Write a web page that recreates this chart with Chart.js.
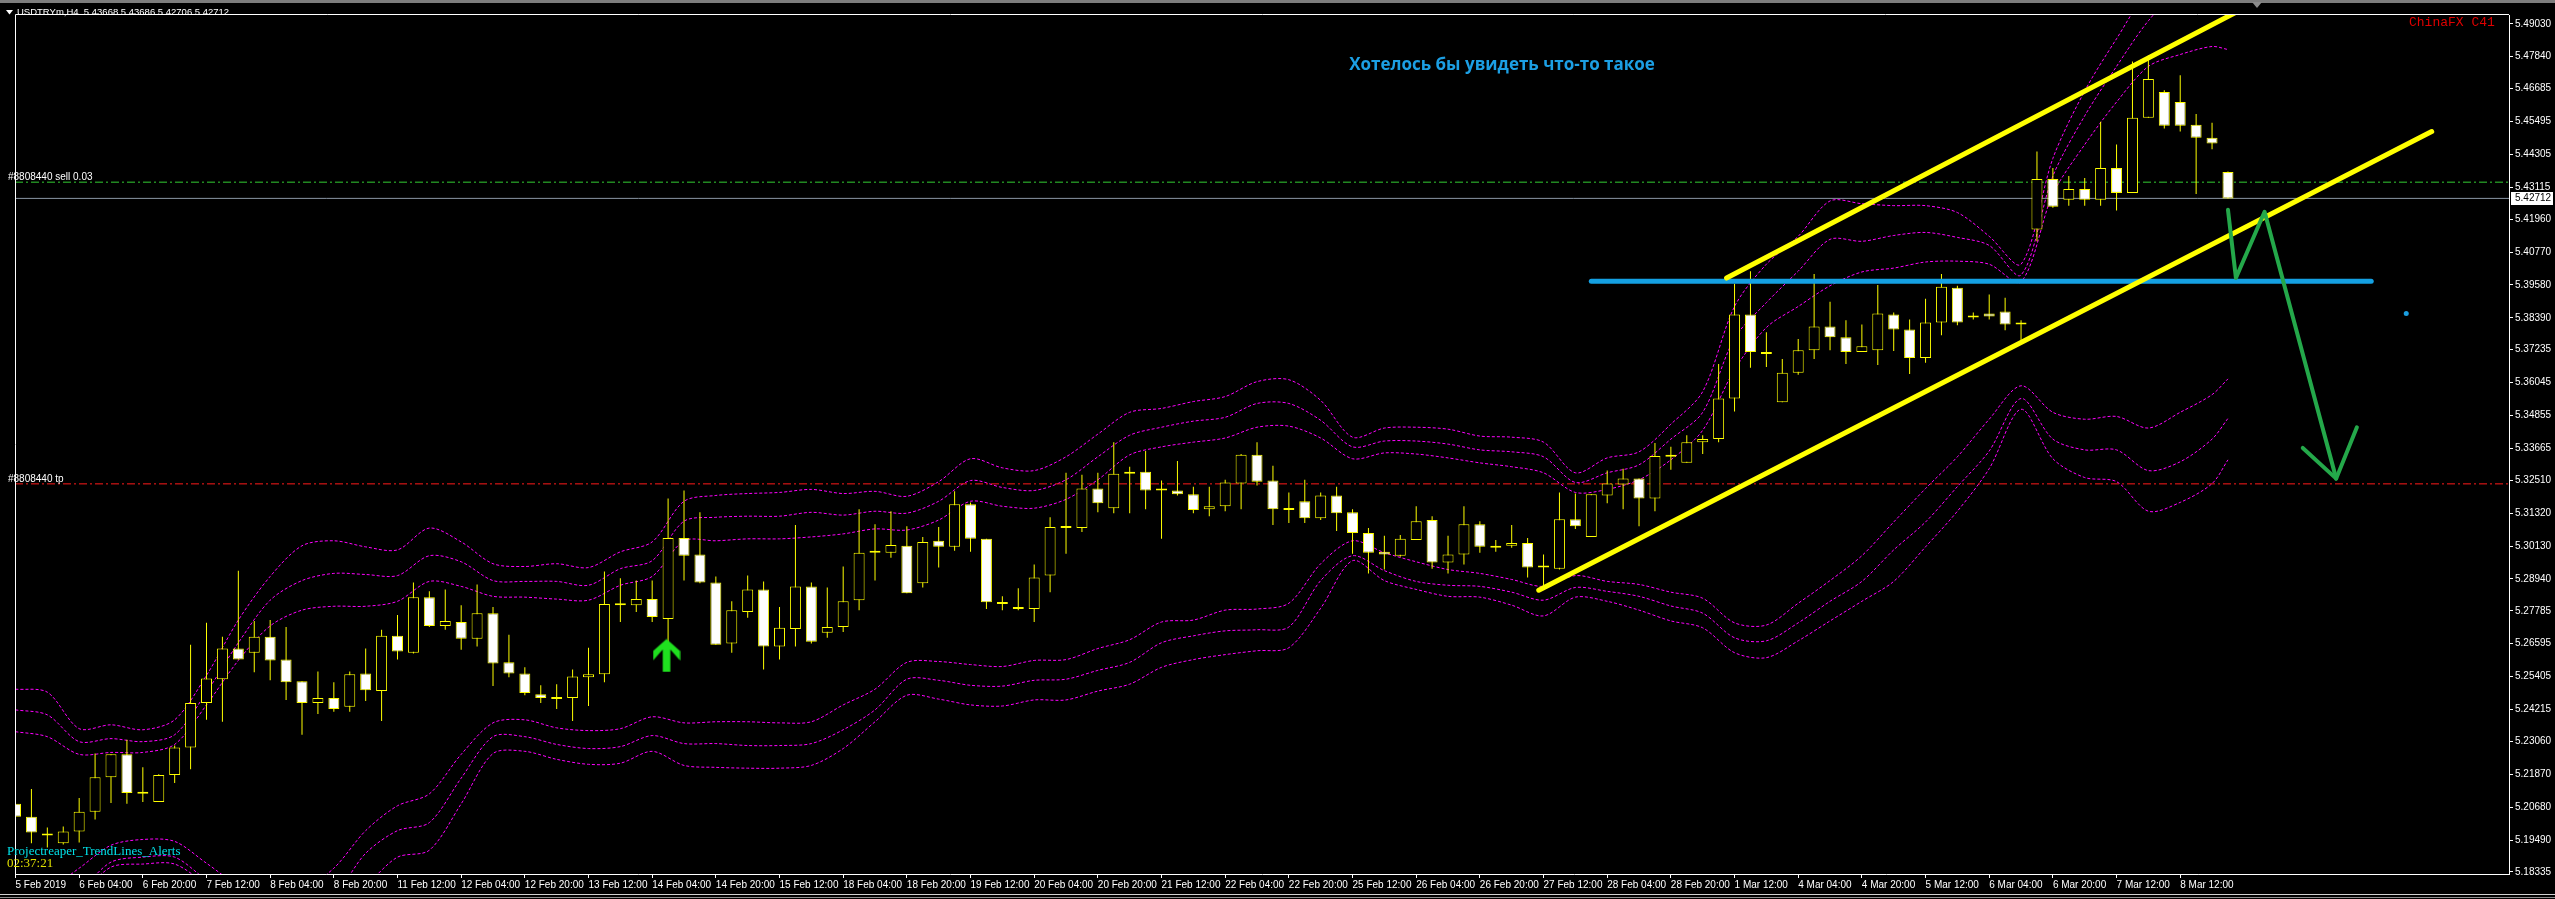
<!DOCTYPE html>
<html>
<head>
<meta charset="utf-8">
<title>USDTRYm,H4</title>
<script src="https://cdn.jsdelivr.net/npm/chart.js@4.4.1/dist/chart.umd.min.js"></script>
<style>
  html, body { margin: 0; padding: 0; background: #000; overflow: hidden; }
  canvas { display: block; }
</style>
</head>
<body>
<canvas id="c" width="2555" height="899"></canvas>
<script>
// USDTRYm H4 candles with envelope bands and hand-drawn channel - Chart.js
(function () {
    'use strict';

    // OHLC, one H4 candle per index (5 Feb 2019 .. 8 Mar 2019)
    const opens = [
        5.2080, 5.2033, 5.1973, 5.1937, 5.1980, 5.2051, 5.2176, 5.2259, 5.2116, 5.2087,
        5.2184, 5.2284, 5.2445, 5.2531, 5.2642, 5.2627, 5.2685, 5.2602, 5.2524, 5.2445,
        5.2463, 5.2431, 5.2552, 5.2488, 5.2688, 5.2627, 5.2828, 5.2724, 5.2738, 5.2677,
        5.2770, 5.2592, 5.2552, 5.2477, 5.2459, 5.2463, 5.2538, 5.2549, 5.2799, 5.2799,
        5.2821, 5.2749, 5.3042, 5.2982, 5.2881, 5.2660, 5.2774, 5.2856, 5.2649, 5.2713,
        5.2867, 5.2699, 5.2720, 5.2817, 5.2989, 5.2989, 5.3014, 5.2878, 5.3032, 5.3010,
        5.3164, 5.3039, 5.2810, 5.2792, 5.2785, 5.2906, 5.3078, 5.3078, 5.3221, 5.3150,
        5.3275, 5.3282, 5.3214, 5.3214, 5.3200, 5.3146, 5.3157, 5.3239, 5.3343, 5.3250,
        5.3150, 5.3175, 5.3114, 5.3196, 5.3135, 5.3060, 5.2992, 5.2978, 5.3035, 5.3107,
        5.2953, 5.2982, 5.3092, 5.3014, 5.3014, 5.3024, 5.2935, 5.2931, 5.3110, 5.3046,
        5.3196, 5.3236, 5.3257, 5.3185, 5.3336, 5.3314, 5.3389, 5.3400, 5.3547, 5.3851,
        5.3715, 5.3533, 5.3640, 5.3722, 5.3808, 5.3769, 5.3715, 5.3722, 5.3851, 5.3797,
        5.3694, 5.3822, 5.3948, 5.3840, 5.3855, 5.3862, 5.3815, 5.4159, 5.4341, 5.4266,
        5.4305, 5.4266, 5.4381, 5.4291, 5.4563, 5.4656, 5.4620, 5.4538, 5.4491, 5.43668
    ];
    const highs = [
        5.2094, 5.2134, 5.1994, 5.1998, 5.2101, 5.2262, 5.2259, 5.2312, 5.2212, 5.2187,
        5.2291, 5.2656, 5.2735, 5.2685, 5.2924, 5.2742, 5.2745, 5.2720, 5.2524, 5.2559,
        5.2520, 5.2559, 5.2642, 5.2710, 5.2763, 5.2881, 5.2849, 5.2856, 5.2799, 5.2874,
        5.2792, 5.2692, 5.2574, 5.2509, 5.2513, 5.2566, 5.2645, 5.2921, 5.2896, 5.2888,
        5.2888, 5.3185, 5.3214, 5.3135, 5.2903, 5.2813, 5.2906, 5.2885, 5.2792, 5.3089,
        5.2881, 5.2863, 5.2939, 5.3146, 5.3092, 5.3139, 5.3085, 5.3046, 5.3082, 5.3211,
        5.3171, 5.3039, 5.2831, 5.2860, 5.2946, 5.3117, 5.3278, 5.3271, 5.3278, 5.3389,
        5.3300, 5.3357, 5.3250, 5.3321, 5.3228, 5.3228, 5.3253, 5.3346, 5.3389, 5.3304,
        5.3207, 5.3253, 5.3207, 5.3228, 5.3146, 5.3078, 5.3050, 5.3053, 5.3157, 5.3121,
        5.3050, 5.3157, 5.3103, 5.3035, 5.3089, 5.3042, 5.2982, 5.3207, 5.3203, 5.3200,
        5.3286, 5.3293, 5.3257, 5.3386, 5.3372, 5.3414, 5.3414, 5.3672, 5.3962, 5.4008,
        5.3787, 5.3690, 5.3762, 5.3998, 5.3897, 5.3830, 5.3815, 5.3958, 5.3858, 5.3833,
        5.3908, 5.3998, 5.3955, 5.3858, 5.3923, 5.3912, 5.3830, 5.4441, 5.4381, 5.4352,
        5.4345, 5.4549, 5.4466, 5.4767, 5.4788, 5.4663, 5.4717, 5.4577, 5.4545, 5.43686
    ];
    const lows = [
        5.1912, 5.1937, 5.1922, 5.1933, 5.1940, 5.2023, 5.2083, 5.2080, 5.2087, 5.2087,
        5.2155, 5.2205, 5.2384, 5.2377, 5.2602, 5.2556, 5.2527, 5.2456, 5.2330, 5.2405,
        5.2413, 5.2413, 5.2452, 5.2380, 5.2602, 5.2624, 5.2720, 5.2710, 5.2638, 5.2649,
        5.2506, 5.2538, 5.2473, 5.2445, 5.2423, 5.2380, 5.2434, 5.2520, 5.2738, 5.2774,
        5.2738, 5.2627, 5.2888, 5.2878, 5.2656, 5.2627, 5.2753, 5.2566, 5.2602, 5.2649,
        5.2660, 5.2681, 5.2702, 5.2781, 5.2888, 5.2971, 5.2842, 5.2863, 5.2935, 5.2996,
        5.2992, 5.2785, 5.2781, 5.2781, 5.2738, 5.2846, 5.2985, 5.3064, 5.3135, 5.3132,
        5.3132, 5.3146, 5.3039, 5.3196, 5.3132, 5.3121, 5.3139, 5.3146, 5.3232, 5.3089,
        5.3096, 5.3096, 5.3107, 5.3067, 5.2985, 5.2914, 5.2928, 5.2974, 5.3035, 5.2931,
        5.2914, 5.2946, 5.2989, 5.2992, 5.3007, 5.2899, 5.2867, 5.2928, 5.3075, 5.3046,
        5.3168, 5.3146, 5.3085, 5.3139, 5.3289, 5.3314, 5.3346, 5.3389, 5.3500, 5.3658,
        5.3661, 5.3533, 5.3633, 5.3690, 5.3722, 5.3672, 5.3715, 5.3668, 5.3719, 5.3636,
        5.3676, 5.3776, 5.3812, 5.3833, 5.3833, 5.3794, 5.3758, 5.4116, 5.4237, 5.4245,
        5.4245, 5.4245, 5.4227, 5.4291, 5.4563, 5.4524, 5.4513, 5.4287, 5.4449, 5.42706
    ];
    const closes = [
        5.2033, 5.1976, 5.1965, 5.1980, 5.2051, 5.2176, 5.2259, 5.2119, 5.2116, 5.2184,
        5.2284, 5.2445, 5.2534, 5.2642, 5.2602, 5.2685, 5.2599, 5.2520, 5.2445, 5.2463,
        5.2423, 5.2549, 5.2491, 5.2688, 5.2631, 5.2828, 5.2724, 5.2742, 5.2677, 5.2770,
        5.2588, 5.2552, 5.2481, 5.2463, 5.2459, 5.2541, 5.2549, 5.2803, 5.2799, 5.2821,
        5.2756, 5.3042, 5.2978, 5.2881, 5.2656, 5.2781, 5.2856, 5.2649, 5.2717, 5.2867,
        5.2667, 5.2720, 5.2813, 5.2989, 5.2989, 5.3017, 5.2842, 5.3028, 5.3010, 5.3164,
        5.3039, 5.2810, 5.2803, 5.2785, 5.2899, 5.3082, 5.3078, 5.3221, 5.3168, 5.3275,
        5.3282, 5.3214, 5.3214, 5.3200, 5.3143, 5.3157, 5.3243, 5.3343, 5.3246, 5.3146,
        5.3143, 5.3114, 5.3196, 5.3132, 5.3060, 5.2989, 5.2982, 5.3039, 5.3103, 5.2953,
        5.2982, 5.3092, 5.3010, 5.3007, 5.3024, 5.2935, 5.2935, 5.3110, 5.3085, 5.3200,
        5.3239, 5.3257, 5.3185, 5.3339, 5.3336, 5.3389, 5.3400, 5.3547, 5.3851, 5.3715,
        5.3708, 5.3640, 5.3722, 5.3808, 5.3769, 5.3715, 5.3736, 5.3855, 5.3797, 5.3694,
        5.3822, 5.3951, 5.3822, 5.3840, 5.3844, 5.3815, 5.3815, 5.4341, 5.4241, 5.4305,
        5.4266, 5.4381, 5.4291, 5.4563, 5.4703, 5.4534, 5.4534, 5.4491, 5.4470, 5.42712
    ];

    // Envelope bands (read every second candle)
    const bandX = [0, 2, 4, 6, 8, 10, 12, 14, 16, 18, 20, 22, 24, 26, 28, 30, 32, 34, 36, 38,
        40, 42, 44, 46, 48, 50, 52, 54, 56, 58, 60, 62, 64, 66, 68, 70, 72, 74, 76, 78,
        80, 82, 84, 86, 88, 90, 92, 94, 96, 98, 100, 102, 104, 106, 108, 110, 112, 114, 116, 118,
        120, 122, 124, 126, 128, 130, 132, 134, 136, 138, 139];
    const bandU1 = [
        5.2495, 5.2484, 5.2352, 5.2366, 5.2348, 5.2384, 5.2545, 5.2745, 5.2903, 5.3014,
        5.3032, 5.3010, 5.2999, 5.3078, 5.3028, 5.2949, 5.2939, 5.2949, 5.2935, 5.2992,
        5.3028, 5.3175, 5.3196, 5.3203, 5.3207, 5.3218, 5.3203, 5.3211, 5.3193, 5.3246,
        5.3329, 5.3296, 5.3286, 5.3336, 5.3418, 5.3497, 5.3511, 5.3536, 5.3554, 5.3608,
        5.3615, 5.3540, 5.3407, 5.3440, 5.3443, 5.3436, 5.3411, 5.3407, 5.3389, 5.3278,
        5.3332, 5.3354, 5.3454, 5.3572, 5.3880, 5.4033, 5.4134, 5.4262, 5.4252, 5.4245,
        5.4245, 5.4220, 5.4134, 5.4033, 5.4416, 5.4660, 5.4849, 5.5017, 5.5060, 5.5078, 5.5078
    ];
    const bandU2 = [
        5.2420, 5.2402, 5.2305, 5.2316, 5.2305, 5.2330, 5.2484, 5.2663, 5.2817, 5.2888,
        5.2914, 5.2910, 5.2906, 5.2978, 5.2956, 5.2888, 5.2885, 5.2885, 5.2871, 5.2931,
        5.2960, 5.3103, 5.3117, 5.3121, 5.3121, 5.3135, 5.3125, 5.3139, 5.3132, 5.3175,
        5.3250, 5.3225, 5.3214, 5.3253, 5.3336, 5.3414, 5.3443, 5.3465, 5.3479, 5.3529,
        5.3529, 5.3468, 5.3372, 5.3393, 5.3393, 5.3382, 5.3361, 5.3354, 5.3336, 5.3243,
        5.3278, 5.3307, 5.3400, 5.3497, 5.3765, 5.3894, 5.4008, 5.4123, 5.4116, 5.4137,
        5.4148, 5.4130, 5.4101, 5.3994, 5.4352, 5.4570, 5.4749, 5.4914, 5.5028, 5.5067, 5.5067
    ];
    const bandU3 = [
        5.2341, 5.2323, 5.2259, 5.2266, 5.2266, 5.2295, 5.2438, 5.2599, 5.2724, 5.2781,
        5.2795, 5.2795, 5.2813, 5.2885, 5.2867, 5.2831, 5.2828, 5.2821, 5.2817, 5.2871,
        5.2903, 5.3032, 5.3032, 5.3039, 5.3039, 5.3046, 5.3057, 5.3075, 5.3071, 5.3107,
        5.3175, 5.3157, 5.3150, 5.3182, 5.3253, 5.3343, 5.3372, 5.3389, 5.3404, 5.3443,
        5.3447, 5.3404, 5.3329, 5.3350, 5.3346, 5.3332, 5.3314, 5.3300, 5.3278, 5.3207,
        5.3218, 5.3253, 5.3325, 5.3432, 5.3651, 5.3804, 5.3880, 5.3955, 5.4005, 5.4019,
        5.4041, 5.4044, 5.4033, 5.3969, 5.4287, 5.4466, 5.4620, 5.4749, 5.4792, 5.4821, 5.4810
    ];
    const bandL3 = [
        5.1751, 5.1769, 5.1847, 5.1930, 5.1951, 5.1944, 5.1865, 5.1786, 5.1751, 5.1769,
        5.1847, 5.1983, 5.2073, 5.2116, 5.2259, 5.2373, 5.2384, 5.2355, 5.2345, 5.2352,
        5.2395, 5.2373, 5.2377, 5.2377, 5.2373, 5.2377, 5.2438, 5.2495, 5.2592, 5.2595,
        5.2584, 5.2577, 5.2599, 5.2602, 5.2642, 5.2674, 5.2738, 5.2745, 5.2781, 5.2785,
        5.2806, 5.2949, 5.3032, 5.2989, 5.2956, 5.2928, 5.2914, 5.2892, 5.2867, 5.2906,
        5.2885, 5.2874, 5.2846, 5.2824, 5.2735, 5.2727, 5.2806, 5.2888, 5.2978, 5.3100,
        5.3221, 5.3336, 5.3472, 5.3593, 5.3497, 5.3472, 5.3482, 5.3440, 5.3497, 5.3561, 5.3618
    ];
    const bandL2 = [
        5.1733, 5.1733, 5.1769, 5.1869, 5.1887, 5.1887, 5.1804, 5.1733, 5.1715, 5.1715,
        5.1751, 5.1901, 5.1983, 5.2012, 5.2173, 5.2323, 5.2323, 5.2295, 5.2280, 5.2287,
        5.2327, 5.2298, 5.2298, 5.2291, 5.2291, 5.2298, 5.2348, 5.2420, 5.2531, 5.2527,
        5.2509, 5.2506, 5.2527, 5.2531, 5.2563, 5.2592, 5.2663, 5.2688, 5.2706, 5.2710,
        5.2720, 5.2888, 5.2978, 5.2924, 5.2885, 5.2871, 5.2867, 5.2846, 5.2817, 5.2863,
        5.2849, 5.2831, 5.2796, 5.2770, 5.2681, 5.2670, 5.2735, 5.2813, 5.2885, 5.2999,
        5.3100, 5.3228, 5.3357, 5.3547, 5.3400, 5.3361, 5.3361, 5.3286, 5.3318, 5.3400, 5.3475
    ];
    const bandL1 = [
        5.1697, 5.1697, 5.1751, 5.1851, 5.1862, 5.1862, 5.1786, 5.1697, 5.1679, 5.1679,
        5.1715, 5.1786, 5.1887, 5.1912, 5.2080, 5.2262, 5.2270, 5.2241, 5.2223, 5.2227,
        5.2270, 5.2219, 5.2212, 5.2209, 5.2209, 5.2219, 5.2280, 5.2377, 5.2473, 5.2459,
        5.2438, 5.2434, 5.2456, 5.2456, 5.2488, 5.2513, 5.2574, 5.2602, 5.2620, 5.2634,
        5.2645, 5.2788, 5.2960, 5.2888, 5.2856, 5.2831, 5.2828, 5.2799, 5.2760, 5.2828,
        5.2813, 5.2781, 5.2742, 5.2717, 5.2627, 5.2609, 5.2670, 5.2742, 5.2813, 5.2885,
        5.3010, 5.3139, 5.3293, 5.3508, 5.3329, 5.3261, 5.3246, 5.3139, 5.3171, 5.3239, 5.3325
    ];

    // Axis ticks
    const xTickPos = [0, 4, 8, 12, 16, 20, 24, 28, 32, 36, 40, 44, 48, 52, 56, 60, 64, 68,
        72, 76, 80, 84, 88, 92, 96, 100, 104, 108, 112, 116, 120, 124, 128, 132, 136];
    const xTickLabels = ['5 Feb 2019', '6 Feb 04:00', '6 Feb 20:00', '7 Feb 12:00', '8 Feb 04:00',
        '8 Feb 20:00', '11 Feb 12:00', '12 Feb 04:00', '12 Feb 20:00', '13 Feb 12:00', '14 Feb 04:00',
        '14 Feb 20:00', '15 Feb 12:00', '18 Feb 04:00', '18 Feb 20:00', '19 Feb 12:00', '20 Feb 04:00',
        '20 Feb 20:00', '21 Feb 12:00', '22 Feb 04:00', '22 Feb 20:00', '25 Feb 12:00', '26 Feb 04:00',
        '26 Feb 20:00', '27 Feb 12:00', '28 Feb 04:00', '28 Feb 20:00', '1 Mar 12:00', '4 Mar 04:00',
        '4 Mar 20:00', '5 Mar 12:00', '6 Mar 04:00', '6 Mar 20:00', '7 Mar 12:00', '8 Mar 12:00'];
    const yTicks = [5.49030, 5.47840, 5.46685, 5.45495, 5.44305, 5.43115, 5.41960, 5.40770,
        5.39580, 5.38390, 5.37235, 5.36045, 5.34855, 5.33665, 5.32510, 5.31320, 5.30130,
        5.28940, 5.27785, 5.26595, 5.25405, 5.24215, 5.23060, 5.21870, 5.20680, 5.19490, 5.18335];

    // Levels and drawn objects
    const sellLevel = 5.4330;
    const tpLevel = 5.3238;
    const bidPrice = 5.42712;
    const resistanceX = [99.0, 148.0];
    const resistanceY = [5.3971, 5.3971];
    const channelUpX = [107.5, 143.0];
    const channelUpY = [5.3983, 5.5050];
    const channelLowX = [95.7, 151.8];
    const channelLowY = [5.2853, 5.4513];
    const forecastX = [139.0, 139.5, 141.3, 145.8];
    const forecastY = [5.4230, 5.3983, 5.4223, 5.3257];
    const headX = [143.7, 145.8, 147.1];
    const headY = [5.3368, 5.3257, 5.3443];
    const signalX = 40.9, signalY = 5.2617;
    const dotX = 150.2, dotY = 5.3855;

    const X_MIN = -0.03125, X_MAX = 156.65625;
    const Y_MIN = 5.1826, Y_MAX = 5.4935;
    const SANS = '"Liberation Sans", Arial, sans-serif';

    const pts = (xs, ys) => xs.map((x, i) => ({ x: x, y: ys[i] }));

    function band(ys) {
        return {
            type: 'line', data: pts(bandX, ys), borderColor: '#ff00ff', borderWidth: 1,
            borderDash: [3, 2], pointRadius: 0, tension: 0.3, order: 9
        };
    }
    function level(y, color, dash) {
        return {
            type: 'line', data: [{ x: X_MIN, y: y }, { x: X_MAX, y: y }], borderColor: color,
            borderWidth: 1, borderDash: dash, pointRadius: 0, order: 8
        };
    }
    function thick(xs, ys, color, w, order) {
        return {
            type: 'line', data: pts(xs, ys), borderColor: color, borderWidth: w,
            borderCapStyle: 'round', borderJoinStyle: 'round', pointRadius: 0, tension: 0, order: order
        };
    }

    // Green up arrow used as a point image
    function arrowImage() {
        const cv = document.createElement('canvas');
        cv.width = 28; cv.height = 34;
        const g = cv.getContext('2d');
        g.fillStyle = '#1fe01f';
        g.beginPath();
        g.moveTo(14, 0.5); g.lineTo(27.5, 12.5); g.lineTo(27.5, 22); g.lineTo(17.8, 11);
        g.lineTo(17.8, 33.5); g.lineTo(10.2, 33.5); g.lineTo(10.2, 11); g.lineTo(0.5, 22);
        g.lineTo(0.5, 12.5); g.closePath();
        g.fill();
        return cv;
    }

    const datasets = [
        band(bandU1), band(bandU2), band(bandU3), band(bandL3), band(bandL2), band(bandL1),
        level(sellLevel, '#32cd32', [8, 3, 2, 3]),
        level(tpLevel, '#ff1a1a', [8, 3, 2, 3]),
        level(bidPrice, '#8a96a4', []),
        {
            type: 'bar', data: opens.map((o, i) => ({ x: i, y: [lows[i], highs[i]] })),
            backgroundColor: '#ffff00', barThickness: 1, grouped: false, inflateAmount: 0, order: 7
        },
        {
            type: 'bar', data: opens.map((o, i) => ({ x: i, y: [o, closes[i]] })),
            backgroundColor: (ctx) => closes[ctx.dataIndex] > opens[ctx.dataIndex] ? '#000000' : '#ffffff',
            borderColor: '#ffff00', borderWidth: 1, borderSkipped: false, barThickness: 11,
            minBarLength: 2, grouped: false, inflateAmount: 0, order: 6
        },
        thick(resistanceX, resistanceY, '#14a0e2', 5, 4),
        thick(channelUpX, channelUpY, '#ffff00', 5, 3),
        thick(channelLowX, channelLowY, '#ffff00', 5, 3),
        thick(forecastX, forecastY, '#24a84a', 4, 2),
        thick(headX, headY, '#24a84a', 4, 2),
        {
            type: 'line', showLine: false, data: [{ x: signalX, y: signalY }],
            pointStyle: arrowImage(), pointRadius: 14, order: 1
        },
        {
            type: 'line', showLine: false, data: [{ x: dotX, y: dotY }],
            pointRadius: 2.5, pointBackgroundColor: '#1a9ee0', pointBorderWidth: 0, order: 1
        }
    ];

    const chromePlugin = {
        id: 'mtChrome',
        beforeDraw(c) {
            const g = c.ctx;
            g.save();
            g.fillStyle = '#000';
            g.fillRect(0, 0, c.width, c.height);
            g.fillStyle = '#7d7d7d';
            g.fillRect(0, 0, c.width, 3);
            g.fillStyle = '#d0d0d0';
            g.fillRect(0, 894, c.width, 1);
            g.fillStyle = '#8a8a8a';
            g.fillRect(0, 897, c.width, 1);
            g.restore();
        },
        afterDraw(c) {
            const g = c.ctx, a = c.chartArea, ys = c.scales.y;
            g.save();
            // left and top frame
            g.strokeStyle = '#ffffff';
            g.lineWidth = 1;
            g.beginPath();
            g.moveTo(a.left + 0.5, a.bottom);
            g.lineTo(a.left + 0.5, a.top - 0.5);
            g.lineTo(a.right, a.top - 0.5);
            g.stroke();

            // chart shift marker
            g.fillStyle = '#8a8a8a';
            g.beginPath();
            g.moveTo(2252, 2); g.lineTo(2262, 2); g.lineTo(2257, 8); g.closePath();
            g.fill();

            // symbol header
            g.fillStyle = '#ffffff';
            g.beginPath();
            g.moveTo(6, 10); g.lineTo(13, 10); g.lineTo(9.5, 14.5); g.closePath();
            g.fill();
            g.font = '9.5px ' + SANS;
            g.textBaseline = 'middle';
            g.textAlign = 'left';
            g.fillText('USDTRYm,H4  5.43668 5.43686 5.42706 5.42712', 17, 12.5);

            // order labels
            g.font = '10px ' + SANS;
            g.fillText('#8808440 sell 0.03', 8, ys.getPixelForValue(sellLevel) - 5);
            g.fillText('#8808440 tp', 8, ys.getPixelForValue(tpLevel) - 5);

            // current price box on the axis
            const py = Math.round(ys.getPixelForValue(bidPrice));
            g.fillStyle = '#ffffff';
            g.fillRect(2511, py - 6, 42, 13);
            g.fillStyle = '#000000';
            g.fillText('5.42712', 2515, py + 0.5);

            // note
            g.font = 'bold 17px "Open Sans", "Noto Sans", sans-serif';
            g.fillStyle = '#1c9fe4';
            g.textAlign = 'center';
            g.fillText('Хотелось бы увидеть что-то такое', 1502, 65);

            g.textAlign = 'left';
            g.font = '13px "Liberation Mono", "DejaVu Sans Mono", monospace';
            g.fillStyle = '#e00000';
            g.fillText('ChinaFX C41', 2409, 23);

            g.font = '13px "Liberation Serif", "DejaVu Serif", serif';
            g.fillStyle = '#00e0e8';
            g.fillText('Projectreaper_TrendLines_Alerts', 7, 852);
            g.fillStyle = '#e0e000';
            g.fillText('02:37:21', 7, 864);
            g.restore();
        }
    };

    new Chart(document.getElementById('c'), {
        type: 'bar',
        data: { datasets: datasets },
        options: {
            responsive: false,
            animation: false,
            devicePixelRatio: 1,
            events: [],
            layout: { padding: { left: 2, top: 5, right: 0, bottom: 0 } },
            plugins: { legend: { display: false }, tooltip: { enabled: false } },
            scales: {
                x: {
                    type: 'linear', min: X_MIN, max: X_MAX, offset: false,
                    afterBuildTicks: (s) => { s.ticks = xTickPos.map((v) => ({ value: v })); },
                    afterFit: (s) => { s.height = 25; s.paddingLeft = 0; s.paddingRight = 0; },
                    ticks: {
                        autoSkip: false, maxRotation: 0, align: 'start', padding: 1, color: '#ffffff',
                        font: { family: SANS, size: 10 },
                        callback: (v, i) => xTickLabels[i]
                    },
                    grid: { drawOnChartArea: false, drawTicks: true, tickLength: 4, color: '#ffffff', offset: false },
                    border: { display: true, color: '#ffffff', width: 1 }
                },
                y: {
                    position: 'right', min: Y_MIN, max: Y_MAX,
                    afterBuildTicks: (s) => { s.ticks = yTicks.map((v) => ({ value: v })); },
                    afterFit: (s) => { s.width = 46; s.paddingTop = 0; s.paddingBottom = 0; },
                    ticks: {
                        autoSkip: false, padding: 2, color: '#ffffff',
                        font: { family: SANS, size: 10 },
                        callback: (v) => Number(v).toFixed(5)
                    },
                    grid: { drawOnChartArea: false, drawTicks: true, tickLength: 4, color: '#ffffff' },
                    border: { display: true, color: '#ffffff', width: 1 }
                }
            }
        },
        plugins: [chromePlugin]
    });
})();
</script>
</body>
</html>
